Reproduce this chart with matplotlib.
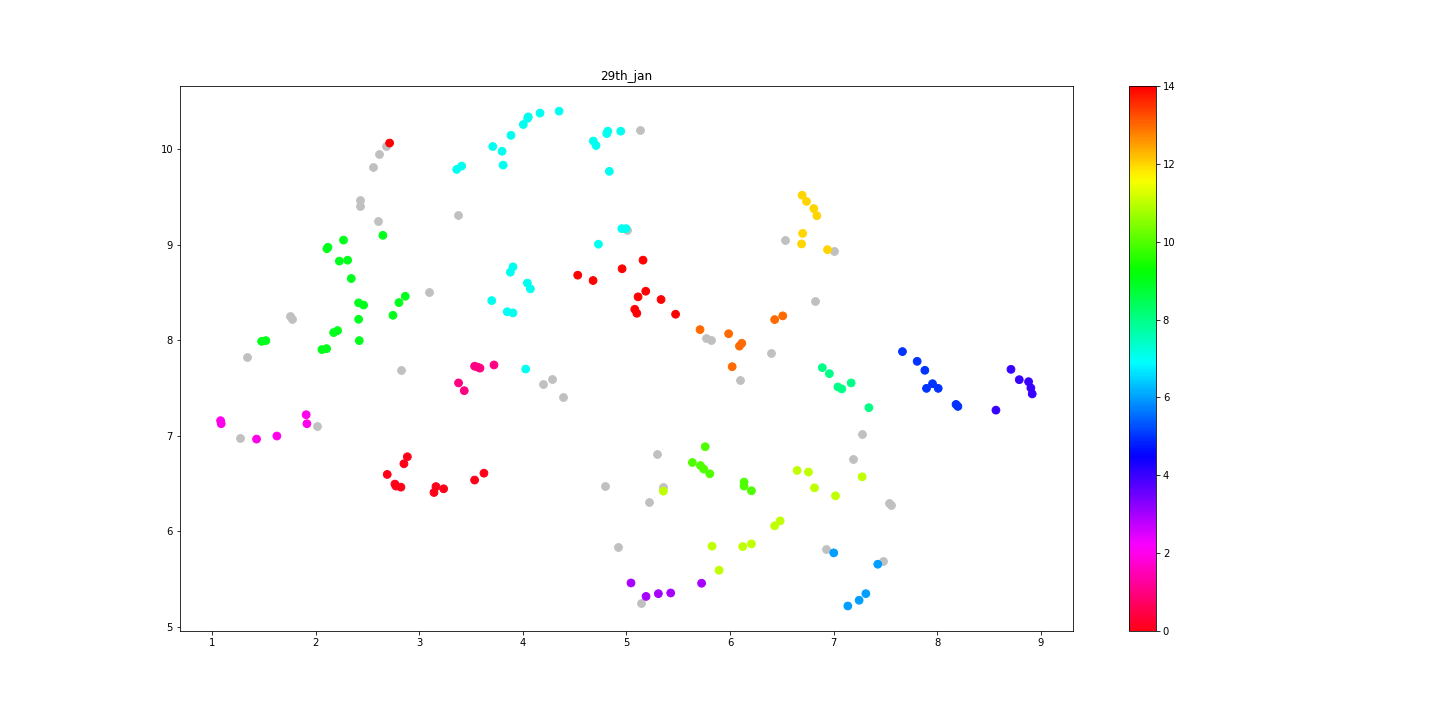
import matplotlib
matplotlib.use("Agg")
import matplotlib.pyplot as plt
import numpy as np

title = "29th_jan"

# Noise points (unclustered, drawn in grey)
noise_x = [2.68, 2.615, 2.557, 2.43, 2.43, 3.37, 2.605, 5.134, 5.01, 6.525, 7.0,
           3.097, 1.756, 1.775, 1.341, 2.828, 2.017, 1.273,
           5.77, 5.82, 6.39, 6.10, 4.285, 4.198, 4.39, 6.823, 7.268,
           5.29, 4.797, 5.353, 5.221, 4.922, 5.144,
           7.19, 7.535, 7.557, 6.93, 7.48]
noise_y = [10.04, 9.955, 9.82, 9.465, 9.41, 9.31, 9.245, 10.205, 9.16, 9.055, 8.94,
           8.51, 8.253, 8.225, 7.827, 7.69, 7.104, 6.978,
           8.03, 8.005, 7.869, 7.586, 7.596, 7.544, 7.41, 8.414, 7.02,
           6.81, 6.475, 6.467, 6.307, 5.835, 5.248,
           6.758, 6.297, 6.276, 5.814, 5.69]

# Clustered points
pts_x = [
    # label 0
    2.886, 2.853, 2.692, 2.766, 2.776, 2.824, 3.162, 3.143, 3.236, 3.535, 3.625,
    # label 1
    3.535, 3.565, 3.38, 3.435, 3.587, 3.722,
    # label 2
    1.084, 1.09, 1.91, 1.917, 1.431, 1.627,
    # label 3
    5.044, 5.725, 5.189, 5.308, 5.427,
    # label 4
    8.565, 8.71, 8.79, 8.88, 8.902, 8.915,
    # label 5
    7.663, 7.805, 7.879, 7.953, 7.895, 8.008, 8.18, 8.198,
    # label 6
    7.0, 7.425, 7.31, 7.245, 7.136,
    # label 7
    3.362, 3.41, 3.71, 3.80, 3.81, 3.886, 4.005, 4.047, 4.053, 4.166, 4.35,
    4.68, 4.707, 4.81, 4.82, 4.945, 4.835, 4.955, 4.996, 4.73,
    3.905, 3.88, 4.044, 4.073, 3.70, 3.85, 3.905, 4.028,
    # label 8
    6.89, 6.958, 7.04, 7.078, 7.168, 7.339,
    # label 9
    2.65, 2.27, 2.11, 2.12, 2.23, 2.31, 2.345, 2.866, 2.805, 2.416, 2.464,
    2.747, 2.416, 2.175, 2.213, 1.48, 1.521, 2.422, 2.062, 2.107,
    # label 10
    5.76, 5.636, 5.714, 5.746, 5.804, 6.135, 6.135, 6.206,
    # label 11
    5.356, 6.43, 6.483, 5.826, 6.122, 6.206, 5.894,
    6.647, 6.756, 7.274, 6.814, 7.017,
    # label 12
    6.695, 6.737, 6.808, 6.837, 6.70, 6.69, 6.94,
    # label 13
    5.71, 5.986, 6.09, 6.113, 6.43, 6.508, 6.02,
    # label 14
    2.715, 4.53, 4.678, 4.958, 5.16, 5.186, 5.112, 5.334, 5.08, 5.10, 5.474,
]
pts_y = [
    6.782, 6.709, 6.597, 6.496, 6.475, 6.464, 6.47, 6.408, 6.447, 6.538, 6.61,
    7.73, 7.72, 7.555, 7.474, 7.71, 7.743,
    7.16, 7.128, 7.222, 7.128, 6.967, 6.999,
    5.461, 5.458, 5.32, 5.349, 5.356,
    7.27, 7.697, 7.589, 7.568, 7.502, 7.44,
    7.883, 7.781, 7.687, 7.547, 7.498, 7.498, 7.33, 7.309,
    5.776, 5.657, 5.349, 5.28, 5.22,
    9.79, 9.825, 10.03, 9.98, 9.835, 10.147, 10.26, 10.325, 10.34, 10.38, 10.40,
    10.087, 10.04, 10.165, 10.19, 10.19, 9.77, 9.17, 9.17, 9.007,
    8.77, 8.714, 8.60, 8.54, 8.417, 8.30, 8.288, 7.70,
    7.715, 7.652, 7.513, 7.492, 7.555, 7.296,
    9.10, 9.05, 8.96, 8.975, 8.83, 8.84, 8.648, 8.462, 8.396, 8.393, 8.37,
    8.263, 8.221, 8.082, 8.103, 7.99, 7.998, 7.998, 7.904, 7.914,
    6.887, 6.722, 6.69, 6.653, 6.604, 6.517, 6.475, 6.426,
    6.422, 6.059, 6.111, 5.846, 5.842, 5.87, 5.594,
    6.639, 6.622, 6.572, 6.457, 6.373,
    9.52, 9.455, 9.38, 9.305, 9.12, 9.01, 8.95,
    8.113, 8.07, 7.94, 7.97, 8.218, 8.257, 7.725,
    10.066, 8.683, 8.627, 8.75, 8.84, 8.515, 8.456, 8.428, 8.326, 8.284, 8.274,
]
group_labels = list(range(15))
group_sizes = [11, 6, 6, 5, 6, 8, 5, 28, 6, 20, 8, 12, 7, 7, 11]

labels = np.repeat(group_labels, group_sizes)

fig = plt.figure(figsize=(20, 10), dpi=72)
fig.subplots_adjust(bottom=0.124)
ax = fig.add_subplot(111)
ax.scatter(noise_x, noise_y, c="silver", s=60)
sc = ax.scatter(pts_x, pts_y, c=labels, cmap="hsv_r", vmin=0, vmax=14, s=60)
ax.set_title(title)
fig.colorbar(sc, ax=ax)
fig.savefig("out.png", dpi=72)
